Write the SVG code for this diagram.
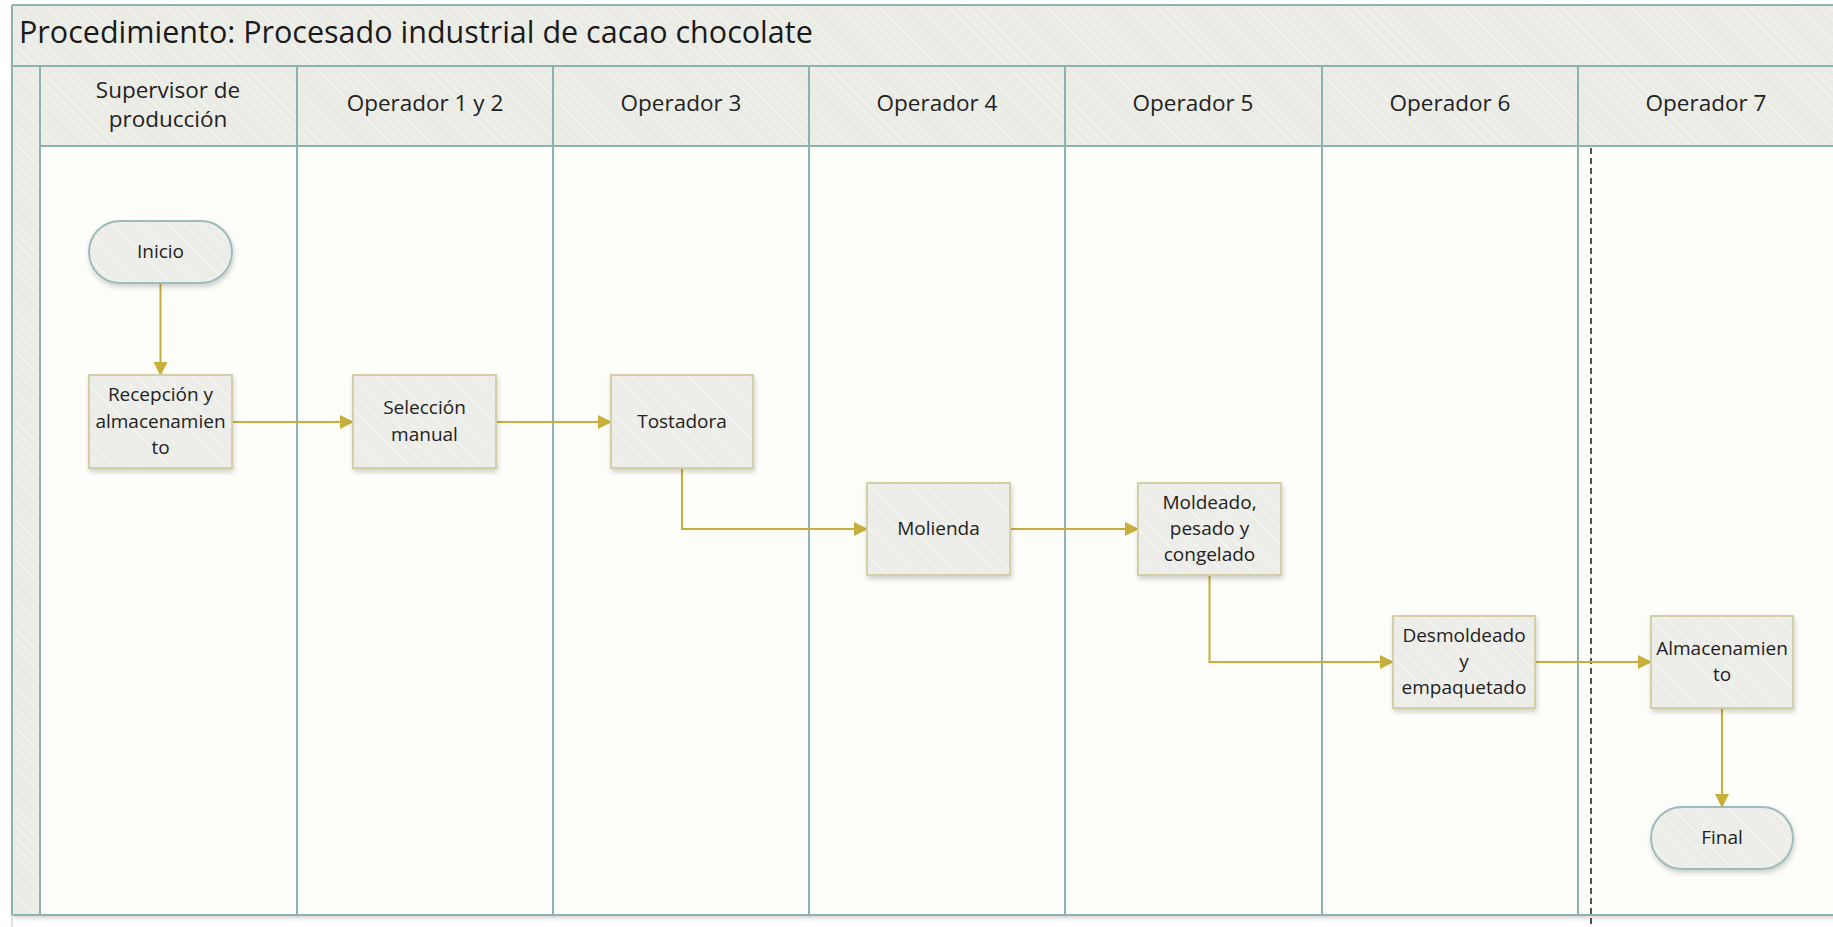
<svg xmlns="http://www.w3.org/2000/svg" width="1833" height="927" viewBox="0 0 1833 927">
  <defs>
    <pattern id="hatch" patternUnits="userSpaceOnUse" width="7" height="7" patternTransform="rotate(-45)">
      <rect width="7" height="7" fill="#ebebe6"/>
      <line x1="0" y1="0" x2="0" y2="7" stroke="#f4f4f0" stroke-width="1.8"/>
    </pattern>
    <pattern id="hatchNode" patternUnits="userSpaceOnUse" width="10" height="10" patternTransform="rotate(-45)">
      <rect width="10" height="10" fill="#ececE8"/>
      <line x1="0" y1="0" x2="0" y2="10" stroke="#f5f5f1" stroke-width="2.5"/>
    </pattern>
    <filter id="shadow" x="-20%" y="-20%" width="140%" height="150%">
      <feDropShadow dx="1" dy="3" stdDeviation="2.5" flood-color="#000" flood-opacity="0.18"/>
    </filter>
    <marker id="arrow" markerUnits="userSpaceOnUse" markerWidth="14" markerHeight="14" viewBox="0 0 14 14" refX="13" refY="7" orient="auto">
      <path d="M0,0 L14,7 L0,14 Z" fill="#c8ae3a"/>
    </marker>
  </defs>
  <style>
    .lane { stroke: #8fb2b0; stroke-width: 2; }
    .title { font-family: "Open Sans", "Noto Sans", sans-serif; font-size: 30.5px; fill: #1a1a1a; }
    .hdr { font-family: "Open Sans", "Noto Sans", sans-serif; font-size: 22.5px; fill: #222; text-anchor: middle; }
    .proc { fill: url(#hatchNode); stroke: #d3cfa6; stroke-width: 2; filter: url(#shadow); }
    .term { fill: url(#hatchNode); stroke: #9dbdbb; stroke-width: 2; filter: url(#shadow); }
    .lbl { font-family: "Open Sans", "Noto Sans", sans-serif; font-size: 19px; fill: #222; text-anchor: middle; }
    .conn { fill: none; stroke: #c8ae3a; stroke-width: 2; marker-end: url(#arrow); }
  </style>

  <!-- page background -->
  <rect x="0" y="0" width="1833" height="927" fill="#ffffff"/>

  <!-- pool: title bar, side strip, lane headers, lane bodies -->
  <g id="pool">
    <rect x="12" y="5" width="1840" height="910" fill="#fdfdf9" filter="url(#shadow)"/>
    <rect x="12" y="5" width="1840" height="61" fill="url(#hatch)"/>
    <rect x="12" y="66" width="28" height="849" fill="url(#hatch)"/>
    <rect x="40" y="66" width="1800" height="80" fill="url(#hatch)"/>
    <text class="title" x="19" y="43">Procedimiento: Procesado industrial de cacao chocolate</text>

    <line class="lane" x1="12" y1="5" x2="1840" y2="5"/>
    <line class="lane" x1="12" y1="66" x2="1840" y2="66"/>
    <line class="lane" x1="40" y1="146" x2="1840" y2="146"/>
    <line class="lane" x1="12" y1="915" x2="1840" y2="915"/>
    <line class="lane" x1="12" y1="5" x2="12" y2="915"/>
    <line x1="12" y1="915" x2="12" y2="927" stroke="#d8d8d8" stroke-width="1.5"/>
    <line class="lane" x1="40" y1="66" x2="40" y2="915"/>
    <line class="lane" x1="297" y1="66" x2="297" y2="915"/>
    <line class="lane" x1="553" y1="66" x2="553" y2="915"/>
    <line class="lane" x1="809" y1="66" x2="809" y2="915"/>
    <line class="lane" x1="1065" y1="66" x2="1065" y2="915"/>
    <line class="lane" x1="1322" y1="66" x2="1322" y2="915"/>
    <line class="lane" x1="1578" y1="66" x2="1578" y2="915"/>
    <line x1="1591" y1="148" x2="1591" y2="927" stroke="#1a1a1a" stroke-width="1.5" stroke-dasharray="6 4"/>

    <text class="hdr" x="168" y="98">Supervisor de</text>
    <text class="hdr" x="168" y="127">producción</text>
    <text class="hdr" x="425" y="111">Operador 1 y 2</text>
    <text class="hdr" x="681" y="111">Operador 3</text>
    <text class="hdr" x="937" y="111">Operador 4</text>
    <text class="hdr" x="1193" y="111">Operador 5</text>
    <text class="hdr" x="1450" y="111">Operador 6</text>
    <text class="hdr" x="1706" y="111">Operador 7</text>
  </g>

  <!-- connectors -->
  <g id="connectors">
    <path class="conn" d="M160.5,283 L160.5,375"/>
    <path class="conn" d="M232,422 L353,422"/>
    <path class="conn" d="M496,422 L611,422"/>
    <path class="conn" d="M682,468 L682,529 L867,529"/>
    <path class="conn" d="M1010,529 L1138,529"/>
    <path class="conn" d="M1209.5,575 L1209.5,662 L1393,662"/>
    <path class="conn" d="M1535,662 L1651,662"/>
    <path class="conn" d="M1722,708 L1722,807"/>
  </g>

  <!-- nodes -->
  <g id="inicio">
    <rect class="term" x="89" y="221" width="143" height="62" rx="31" ry="31"/>
    <text class="lbl" x="160.5" y="258">Inicio</text>
  </g>
  <g id="recepcion">
    <rect class="proc" x="89" y="375" width="143" height="93"/>
    <text class="lbl" x="160.5" y="401">Recepción y</text>
    <text class="lbl" x="160.5" y="428">almacenamien</text>
    <text class="lbl" x="160.5" y="454">to</text>
  </g>
  <g id="seleccion">
    <rect class="proc" x="353" y="375" width="143" height="93"/>
    <text class="lbl" x="424.5" y="414">Selección</text>
    <text class="lbl" x="424.5" y="441">manual</text>
  </g>
  <g id="tostadora">
    <rect class="proc" x="611" y="375" width="142" height="93"/>
    <text class="lbl" x="682" y="428">Tostadora</text>
  </g>
  <g id="molienda">
    <rect class="proc" x="867" y="483" width="143" height="92"/>
    <text class="lbl" x="938.5" y="535">Molienda</text>
  </g>
  <g id="moldeado">
    <rect class="proc" x="1138" y="483" width="143" height="92"/>
    <text class="lbl" x="1209.5" y="509">Moldeado,</text>
    <text class="lbl" x="1209.5" y="535">pesado y</text>
    <text class="lbl" x="1209.5" y="561">congelado</text>
  </g>
  <g id="desmoldeado">
    <rect class="proc" x="1393" y="616" width="142" height="92"/>
    <text class="lbl" x="1464" y="642">Desmoldeado</text>
    <text class="lbl" x="1464" y="668">y</text>
    <text class="lbl" x="1464" y="694">empaquetado</text>
  </g>
  <g id="almacenamiento">
    <rect class="proc" x="1651" y="616" width="142" height="92"/>
    <text class="lbl" x="1722" y="655">Almacenamien</text>
    <text class="lbl" x="1722" y="681">to</text>
  </g>
  <g id="final">
    <rect class="term" x="1651" y="807" width="142" height="62" rx="31" ry="31"/>
    <text class="lbl" x="1722" y="844">Final</text>
  </g>
</svg>
